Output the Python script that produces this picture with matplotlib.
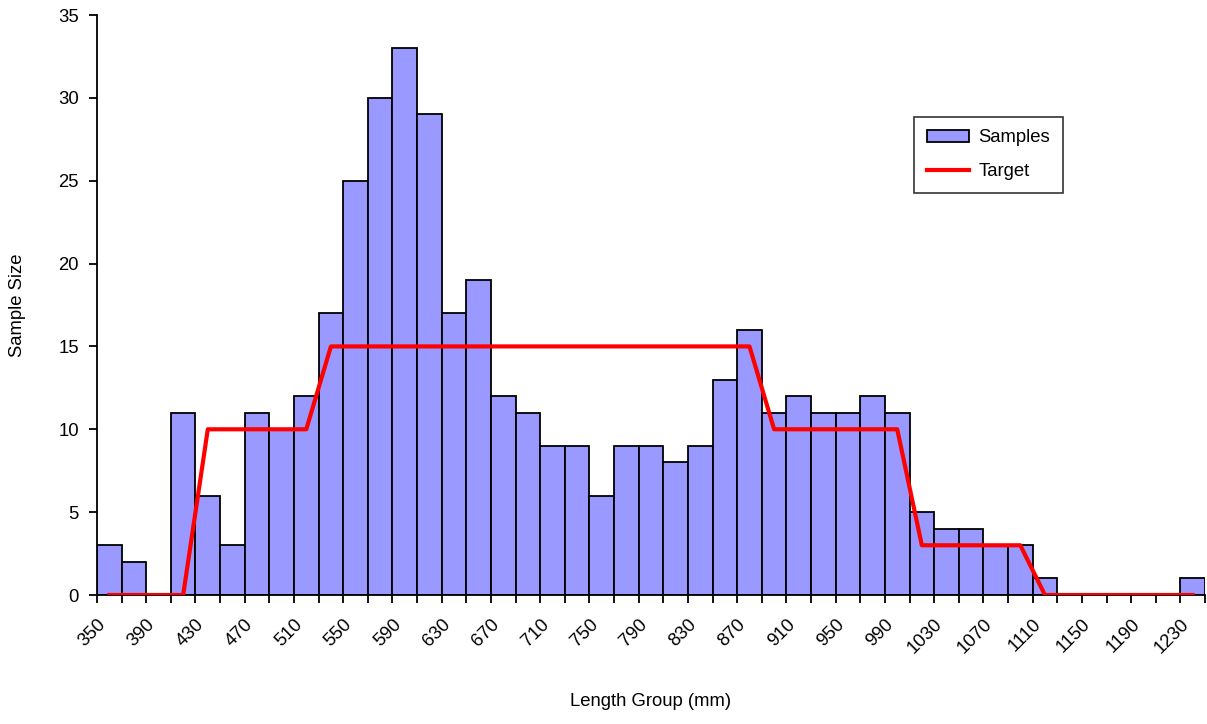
import matplotlib
matplotlib.use("Agg")
import matplotlib.pyplot as plt
import numpy as np

plt.rcParams["font.family"] = ["Liberation Sans", "DejaVu Sans"]

# Length groups (left edge of each 20 mm bin)
groups = list(range(350, 1250, 20))
samples = [3, 2, 0, 11, 6, 3, 11, 10, 12, 17, 25, 30, 33, 29, 17, 19, 12, 11,
           9, 9, 6, 9, 9, 8, 9, 13, 16, 11, 12, 11, 11, 12, 11, 5, 4, 4, 3, 3,
           1, 0, 0, 0, 0, 0, 1]
target = [0, 0, 0, 0, 10, 10, 10, 10, 10, 15, 15, 15, 15, 15, 15, 15, 15, 15,
          15, 15, 15, 15, 15, 15, 15, 15, 15, 10, 10, 10, 10, 10, 10, 3, 3, 3,
          3, 3, 0, 0, 0, 0, 0, 0, 0]
tick_labels = list(range(350, 1250, 40))

bin_width = 20
centers = np.array(groups) + bin_width / 2
fs = 13.3

fig = plt.figure(figsize=(12.07, 7.24), dpi=100)
ax = fig.add_axes([97 / 1207, 1 - 595 / 724, 1108 / 1207, 580 / 724])

bars = ax.bar(groups, samples, width=bin_width, align="edge", color="#9999FF",
              edgecolor="black", linewidth=1.3, label="Samples", zorder=2)
line, = ax.plot(centers, target, color="#FF0000", linewidth=3, label="Target", zorder=3)

ax.set_xlim(350, 1250)
ax.set_ylim(0, 35)
ax.set_yticks(range(0, 36, 5))
ax.set_xticks(range(350, 1251, 20))
ax.set_xticklabels([str(v) if v in tick_labels else "" for v in range(350, 1251, 20)],
                   rotation=45, ha="right", rotation_mode="anchor")

ax.spines["top"].set_visible(False)
ax.spines["right"].set_visible(False)
ax.spines["left"].set_linewidth(1.3)
ax.spines["bottom"].set_linewidth(1.3)
ax.tick_params(axis="both", direction="out", length=6, width=1.3,
               labelsize=fs, colors="black")
ax.tick_params(axis="x", pad=9)
ax.tick_params(axis="y", pad=7)

ax.set_ylabel("Sample Size", fontsize=fs, labelpad=23)
ax.set_xlabel("Length Group (mm)", fontsize=fs, labelpad=26)

leg = ax.legend([bars, line], ["Samples", "Target"], loc="upper left",
                bbox_to_anchor=(0.737, 0.825), fontsize=fs,
                frameon=True, fancybox=False, edgecolor="black",
                handlelength=2.3, handleheight=0.7, handletextpad=0.5,
                borderpad=0.7, labelspacing=0.9, borderaxespad=0)
leg.get_frame().set_linewidth(1.2)

fig.savefig("out.png", dpi=100)
